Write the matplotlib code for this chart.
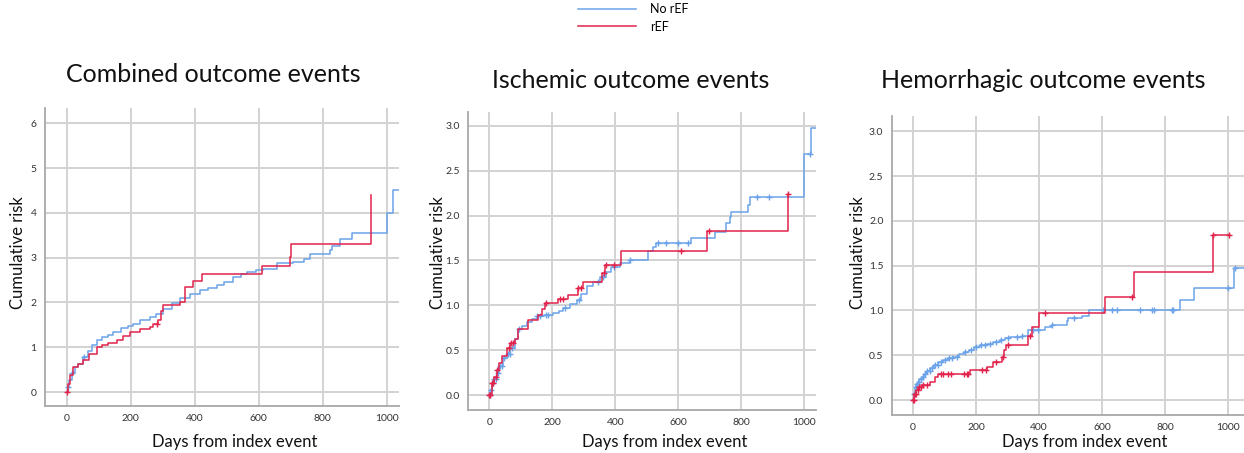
import matplotlib
matplotlib.use("Agg")
import matplotlib.pyplot as plt
import numpy as np

plt.rcParams['font.family'] = ['Lato', 'DejaVu Sans']

# ---- data ----
titles = ["Combined outcome events", "Ischemic outcome events", "Hemorrhagic outcome events"]
series_names = ["No rEF", "rEF"]

# Combined: no rEF
comb_blue_t = [0, 3, 8, 16, 25, 35, 52, 65, 80, 94, 110, 130, 146, 170, 190, 208, 230, 260, 280, 302,
               330, 354, 385, 416, 440, 468, 490, 520, 545, 562, 590, 614, 656, 708, 740, 760, 822, 830,
               853, 890, 1000, 1020]
comb_blue_y = [0, 0.12, 0.28, 0.42, 0.55, 0.63, 0.79, 0.92, 1.05, 1.16, 1.22, 1.28, 1.34, 1.42, 1.47, 1.53,
               1.60, 1.68, 1.75, 1.86, 1.98, 2.09, 2.18, 2.27, 2.32, 2.38, 2.46, 2.57, 2.64, 2.68, 2.72,
               2.75, 2.87, 2.90, 2.98, 3.09, 3.18, 3.26, 3.42, 3.55, 4.0, 4.5]
comb_blue_end = 1038
comb_blue_cens = [5, 16, 55]
# Combined: rEF
comb_red_t = [0, 4, 10, 21, 35, 52, 70, 94, 110, 130, 156, 175, 198, 230, 260, 270, 285, 295, 302,
              354, 370, 395, 421, 609, 697, 700, 950]
comb_red_y = [0, 0.18, 0.38, 0.56, 0.63, 0.71, 0.86, 1.00, 1.05, 1.10, 1.16, 1.25, 1.34, 1.40, 1.45,
              1.52, 1.60, 1.80, 1.94, 2.00, 2.35, 2.49, 2.63, 2.81, 3.02, 3.31, 4.40]
comb_red_end = 950
comb_red_cens = [0, 281]

# Ischemic: no rEF
isch_blue_t = [0, 3, 8, 14, 23, 32, 44, 55, 66, 80, 92, 105, 119, 135, 150, 175, 203, 220, 235, 255,
               277, 292, 309, 330, 351, 370, 388, 415, 446, 505, 520, 531, 642, 716, 753, 764, 769,
               822, 827, 1000, 1023]
isch_blue_y = [0, 0.06, 0.13, 0.18, 0.24, 0.32, 0.41, 0.46, 0.52, 0.63, 0.74, 0.77, 0.81, 0.85, 0.88,
               0.89, 0.91, 0.94, 0.97, 1.01, 1.06, 1.13, 1.21, 1.26, 1.32, 1.37, 1.43, 1.47, 1.51, 1.60,
               1.65, 1.69, 1.75, 1.82, 1.92, 1.98, 2.04, 2.12, 2.21, 2.69, 2.98]
isch_blue_end = 1038
isch_blue_cens = [2, 6, 10, 15, 20, 26, 33, 40, 48, 58, 65, 72, 95, 150, 160, 180, 185, 240, 285,
                  345, 360, 395, 446, 535, 561, 600, 632, 849, 889, 1020]
# Ischemic: rEF
isch_red_t = [0, 7, 15, 23, 31, 39, 55, 66, 81, 92, 124, 156, 166, 177, 219, 251, 283, 298, 357, 367,
              418, 692, 950]
isch_red_y = [0, 0.13, 0.20, 0.28, 0.36, 0.43, 0.52, 0.58, 0.63, 0.74, 0.84, 0.89, 0.96, 1.03, 1.07,
              1.12, 1.19, 1.26, 1.36, 1.45, 1.61, 1.83, 2.24]
isch_red_end = 950
isch_red_cens = [0, 3, 7, 10, 22, 25, 62, 68, 74, 180, 225, 235, 283, 290, 365, 372, 395, 609, 698, 950]

# Hemorrhagic: no rEF
hem_blue_t = [0, 2, 6, 10, 14, 20, 28, 35, 43, 55, 65, 80, 96, 112, 128, 145, 160, 176, 192, 212, 234,
              255, 276, 292, 308, 345, 366, 419, 440, 488, 493, 535, 557, 848, 890, 1019]
hem_blue_y = [0, 0.07, 0.15, 0.18, 0.20, 0.23, 0.26, 0.29, 0.32, 0.36, 0.39, 0.42, 0.45, 0.47, 0.48,
              0.51, 0.54, 0.56, 0.59, 0.61, 0.63, 0.65, 0.67, 0.69, 0.70, 0.72, 0.78, 0.81, 0.84, 0.88,
              0.92, 0.94, 1.01, 1.12, 1.25, 1.47]
hem_blue_end = 1050
hem_blue_cens = [3, 8, 12, 18, 24, 30, 38, 45, 52, 60, 70, 78, 88, 100, 115, 122, 140, 165, 185, 200,
                 215, 228, 245, 262, 280, 300, 330, 345, 380, 395, 440, 510, 604, 631, 647, 721, 758,
                 763, 821, 826, 1000, 1022]
# Hemorrhagic: rEF
hem_red_t = [0, 3, 10, 17, 28, 54, 70, 80, 181, 234, 253, 282, 287, 295, 366, 377, 398, 610, 700, 951]
hem_red_y = [0, 0.07, 0.11, 0.15, 0.17, 0.20, 0.26, 0.29, 0.33, 0.37, 0.43, 0.48, 0.56, 0.61, 0.72,
             0.82, 0.97, 1.15, 1.43, 1.84]
hem_red_end = 1006
hem_red_cens = [0, 2, 5, 8, 14, 20, 25, 32, 45, 88, 95, 110, 120, 160, 170, 175, 220, 230, 262, 285,
                300, 370, 420, 694, 951, 1002]

blue = "#6aa3e9"
red = "#e2234b"

panels = [
    dict(title=titles[0], ylim=(-0.31, 6.34), xlim=(-68, 1038), yticks=np.arange(0, 7, 1), yfmt="%d",
         rect=[45 / 1244, 1 - 406 / 453, 354 / 1244, 298 / 453], title_xy=(213, 75),
         ylab_x=18, xlab_x=235,
         blue=(comb_blue_t, comb_blue_y, comb_blue_end, comb_blue_cens),
         red=(comb_red_t, comb_red_y, comb_red_end, comb_red_cens)),
    dict(title=titles[1], ylim=(-0.167, 3.155), xlim=(-68, 1038), yticks=np.arange(0, 3.01, 0.5), yfmt="%.1f",
         rect=[468 / 1244, 1 - 410 / 453, 348 / 1244, 298 / 453], title_xy=(631, 80),
         ylab_x=438, xlab_x=665,
         blue=(isch_blue_t, isch_blue_y, isch_blue_end, isch_blue_cens),
         red=(isch_red_t, isch_red_y, isch_red_end, isch_red_cens)),
    dict(title=titles[2], ylim=(-0.167, 3.17), xlim=(-68, 1050), yticks=np.arange(0, 3.01, 0.5), yfmt="%.1f",
         rect=[891.7 / 1244, 1 - 415 / 453, 352.3 / 1244, 299 / 453], title_xy=(1043, 80),
         ylab_x=858, xlab_x=1085,
         blue=(hem_blue_t, hem_blue_y, hem_blue_end, hem_blue_cens),
         red=(hem_red_t, hem_red_y, hem_red_end, hem_red_cens)),
]


def step_value(t, y, x):
    idx = np.searchsorted(np.asarray(t), np.asarray(x), side="right") - 1
    return np.asarray(y)[np.clip(idx, 0, len(y) - 1)]


W, H = 1244, 453
fig = plt.figure(figsize=(W / 100, H / 100), dpi=100)

handles = []
for p in panels:
    ax = fig.add_axes(p["rect"])
    ax.set_xlim(*p["xlim"])
    ax.set_ylim(*p["ylim"])
    ax.set_xticks(np.arange(0, 1001, 200))
    ax.set_yticks(p["yticks"])
    ax.set_yticklabels([p["yfmt"] % v for v in p["yticks"]])
    ax.grid(True, color="#d2d2d2", lw=1.4)
    ax.set_axisbelow(True)
    for s in ["top", "right"]:
        ax.spines[s].set_visible(False)
    for s in ["left", "bottom"]:
        ax.spines[s].set_color("#a8a8a8")
        ax.spines[s].set_linewidth(1.3)
    ax.tick_params(length=0, labelsize=7.5, colors="#333333", pad=6)

    for key, col, name in [("blue", blue, series_names[0]), ("red", red, series_names[1])]:
        t, y, end, cens = p[key]
        tt = list(t) + [end]
        yy = list(y) + [y[-1]]
        ln, = ax.step(tt, yy, where="post", color=col, lw=1.1, label=name)
        cy = step_value(t, y, cens)
        ax.plot(cens, cy, "+", color=col, ms=5, mew=1.0)
        if len(handles) < 2:
            handles.append(ln)

    tx, ty = p["title_xy"]
    fig.text(tx / W, 1 - ty / H, p["title"], fontsize=18, ha="center", va="center", color="#111111")
    fig.text(p["ylab_x"] / W, 1 - 253 / H, "Cumulative risk", fontsize=12, rotation=90,
             ha="center", va="center", color="#111111")
    fig.text(p["xlab_x"] / W, 1 - 442 / H, "Days from index event", fontsize=12,
             ha="center", va="center", color="#111111")

fig.legend(handles, series_names, loc="upper left", bbox_to_anchor=(578 / W, 1 - 3 / H),
           frameon=False, fontsize=9, handlelength=4.6, handletextpad=1.2, labelspacing=0.45,
           borderpad=0, borderaxespad=0)

fig.savefig("out.png", dpi=100)
